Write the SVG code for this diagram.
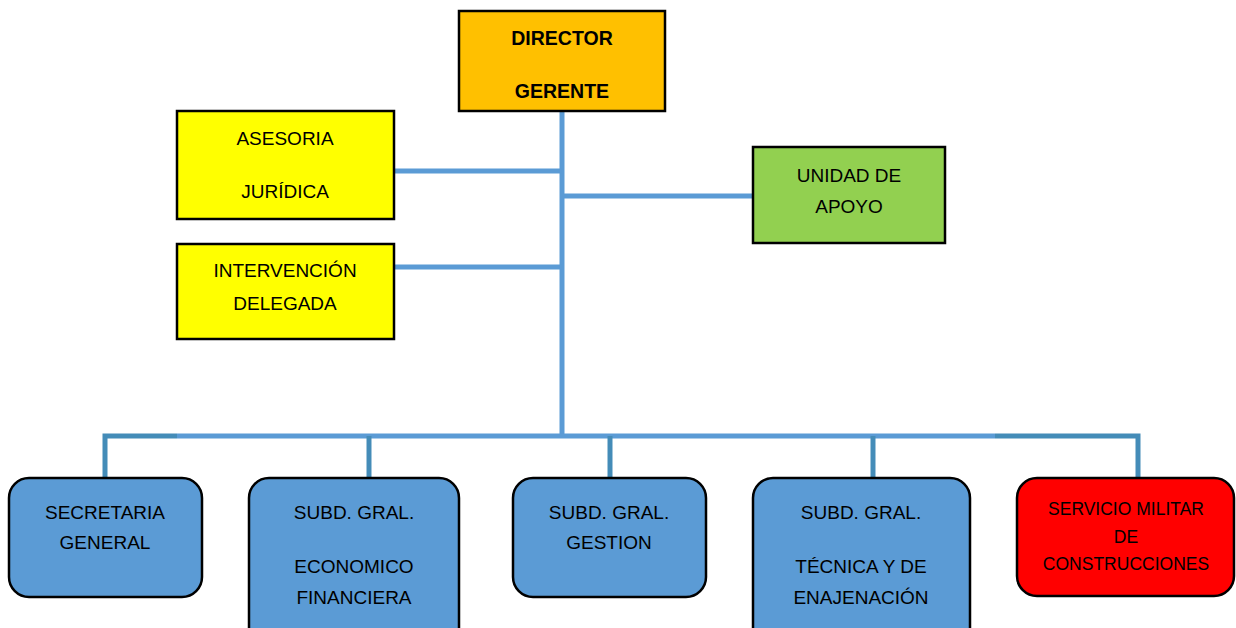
<svg xmlns="http://www.w3.org/2000/svg" width="1236" height="628" viewBox="0 0 1236 628">
<style>
.box{stroke:#000;stroke-width:2.5}
.t{font-family:"Liberation Sans",Arial,sans-serif;font-size:19px;fill:#000;text-anchor:middle}
.b{font-weight:bold;font-size:19.5px}
.s{font-size:17.5px}
.c{stroke:#5B9BD5;stroke-width:5;fill:none}
.d{stroke:#448CB8;stroke-width:5;fill:none}
</style>
<rect width="1236" height="628" fill="#fff"/>
<g id="connectors">
<line class="c" x1="562" y1="111" x2="562" y2="438"/>
<line class="c" x1="394" y1="171" x2="562" y2="171"/>
<line class="c" x1="562" y1="196" x2="753" y2="196"/>
<line class="c" x1="394" y1="267" x2="562" y2="267"/>
<line class="c" x1="177" y1="436" x2="995" y2="436"/>
<polyline class="d" points="105,478 105,436 177,436"/>
<polyline class="d" points="995,436 1138,436 1138,478"/>
<line class="d" x1="369" y1="436" x2="369" y2="478"/>
<line class="d" x1="610" y1="436" x2="610" y2="478"/>
<line class="d" x1="873" y1="436" x2="873" y2="478"/>
</g>
<g id="director">
<rect class="box" x="459" y="11" width="206" height="100" fill="#FFC000"/>
<text class="t b" x="562" y="45">DIRECTOR</text>
<text class="t b" x="562" y="98">GERENTE</text>
</g>
<g id="asesoria">
<rect class="box" x="177" y="111" width="217" height="108" fill="#FFFF00"/>
<text class="t" x="285" y="145">ASESORIA</text>
<text class="t" x="285" y="198">JURÍDICA</text>
</g>
<g id="intervencion">
<rect class="box" x="177" y="244" width="217" height="95" fill="#FFFF00"/>
<text class="t" x="285" y="277">INTERVENCIÓN</text>
<text class="t" x="285" y="310">DELEGADA</text>
</g>
<g id="unidad">
<rect class="box" x="753" y="147" width="192" height="96" fill="#92D050"/>
<text class="t" x="849" y="182">UNIDAD DE</text>
<text class="t" x="849" y="213">APOYO</text>
</g>
<g id="secretaria">
<rect class="box" x="9" y="478" width="193" height="119" rx="20" fill="#5B9BD5"/>
<text class="t" x="105" y="519">SECRETARIA</text>
<text class="t" x="105" y="549">GENERAL</text>
</g>
<g id="economico">
<rect class="box" x="249" y="478" width="210" height="170" rx="20" fill="#5B9BD5"/>
<text class="t" x="354" y="519">SUBD. GRAL.</text>
<text class="t" x="354" y="573">ECONOMICO</text>
<text class="t" x="354" y="604">FINANCIERA</text>
</g>
<g id="gestion">
<rect class="box" x="513" y="478" width="193" height="119" rx="20" fill="#5B9BD5"/>
<text class="t" x="609" y="519">SUBD. GRAL.</text>
<text class="t" x="609" y="549">GESTION</text>
</g>
<g id="tecnica">
<rect class="box" x="753" y="478" width="217" height="170" rx="20" fill="#5B9BD5"/>
<text class="t" x="861" y="519">SUBD. GRAL.</text>
<text class="t" x="861" y="573">TÉCNICA Y DE</text>
<text class="t" x="861" y="604">ENAJENACIÓN</text>
</g>
<g id="servicio">
<rect class="box" x="1017" y="478" width="217" height="118" rx="20" fill="#FF0000"/>
<text class="t s" x="1126" y="515">SERVICIO MILITAR</text>
<text class="t s" x="1126" y="543">DE</text>
<text class="t s" x="1126" y="570">CONSTRUCCIONES</text>
</g>
</svg>
